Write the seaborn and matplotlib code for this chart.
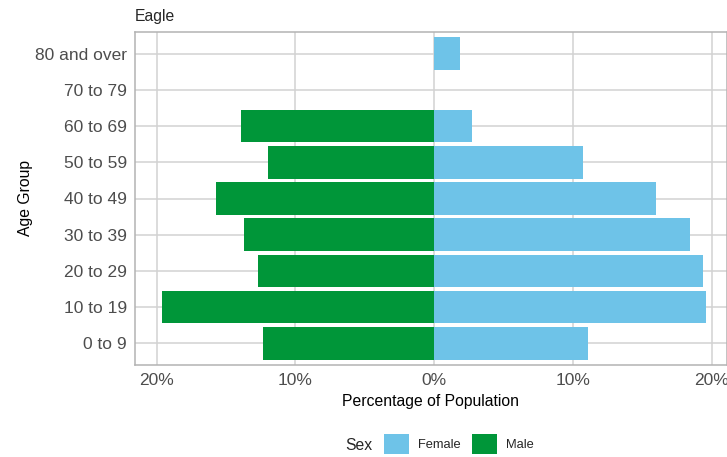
import numpy as np
import pandas as pd
import matplotlib
matplotlib.use("Agg")
import matplotlib.pyplot as plt
from matplotlib.patches import Patch
from matplotlib.ticker import FixedLocator, FuncFormatter
import seaborn as sns

# data (percent of population)
age_groups = ["80 and over", "70 to 79", "60 to 69", "50 to 59", "40 to 49",
              "30 to 39", "20 to 29", "10 to 19", "0 to 9"]
female_pct = [1.9, 0.0, 2.7, 10.7, 16.0, 18.4, 19.4, 19.6, 11.1]
male_pct = [0.0, 0.0, 13.9, 12.0, 15.7, 13.7, 12.7, 19.6, 12.3]
sex_levels = ["Female", "Male"]
sex_colors = ["#6EC3E8", "#009639"]
x_ticks = [-20, -10, 0, 10, 20]

df = pd.DataFrame({
    "age": age_groups * 2,
    "pct": list(female_pct) + [-v for v in male_pct],
    "sex": ["Female"] * len(age_groups) + ["Male"] * len(age_groups),
})

sns.set_style("white")
plt.rcParams["font.family"] = ["Liberation Sans", "DejaVu Sans"]

fig = plt.figure(figsize=(7.27, 4.57), dpi=100)
ax = fig.add_axes([135 / 727, 1 - 365 / 457, 1 - 135 / 727, (365 - 32) / 457])

sns.barplot(data=df, x="pct", y="age", hue="sex", order=age_groups,
            hue_order=sex_levels, palette=sex_colors, dodge=False,
            width=0.9, orient="h", ax=ax, legend=False, saturation=1,
            edgecolor="none", linewidth=0)

ax.set_xlim(-21.55, 21.1)
ax.set_ylim(8.6, -0.6)

# grid like ggplot theme_light
ax.set_axisbelow(True)
ax.xaxis.set_major_locator(FixedLocator(x_ticks))
ax.xaxis.set_major_formatter(FuncFormatter(lambda v, p: f"{abs(v):.0f}%"))
ax.grid(True, which="major", color="#d2d2d2", linewidth=1.1)
for s in ax.spines.values():
    s.set_color("#b3b3b3")
    s.set_linewidth(1.1)

ax.tick_params(axis="both", which="major", length=4, width=1, color="#444444",
               labelcolor="#4d4d4d", labelsize=12.5, pad=2)

ax.set_xlabel("Percentage of Population", fontsize=11.3, color="black", labelpad=4)
ax.set_ylabel("Age Group", fontsize=11.3, color="black", labelpad=1)
ax.set_title("Eagle", loc="left", fontsize=11.3, pad=8)

# legend at the bottom, title on the left
fig.text(372 / 727, 1 - 445 / 457, "Sex", fontsize=11.3, ha="right", va="center")
handles = [Patch(facecolor=c, edgecolor="none", label=l)
           for c, l in zip(sex_colors, sex_levels)]
fig.legend(handles=handles, loc="center left", ncol=2,
           bbox_to_anchor=(378 / 727, 1 - 444 / 457), frameon=False,
           fontsize=9.3, handlelength=1.9, handleheight=1.9, handletextpad=0.7,
           columnspacing=0.9, borderpad=0)

fig.savefig("out.png", dpi=100)
